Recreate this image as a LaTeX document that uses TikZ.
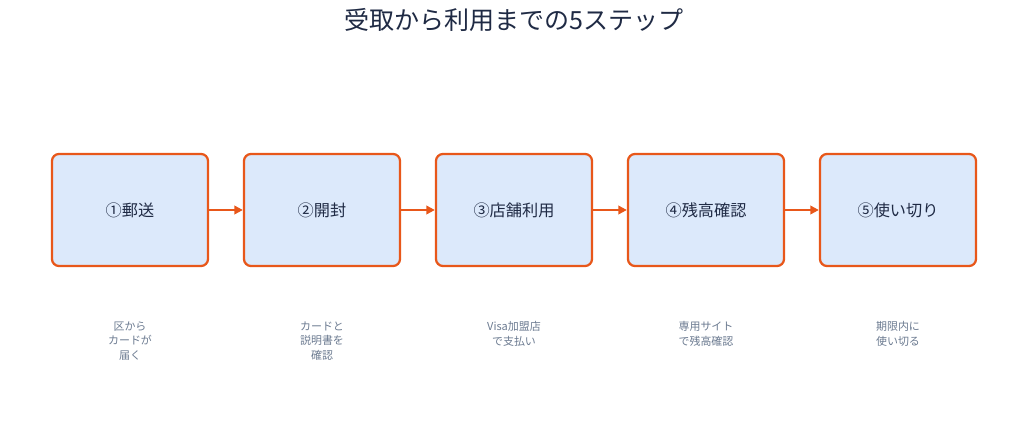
\documentclass[tikz,border=0pt]{standalone}
\usepackage{fontspec}
\setmainfont{Noto Sans CJK JP}
\usetikzlibrary{positioning,arrows.meta}
\definecolor{stepline}{HTML}{E8571A}
\definecolor{stepfill}{HTML}{DCE9FB}
\definecolor{steptext}{HTML}{1F2A44}
\definecolor{notetext}{HTML}{6B7A90}
\begin{document}
\begin{tikzpicture}
          [x=0.025cm,y=-0.025cm,
          stepbox/.style={shape=rectangle,rounded corners=5pt,draw=stepline,fill=stepfill,text=steptext,
            minimum width=3.9cm,minimum height=2.8cm,line width=1.6pt,font=\fontsize{11.5}{13}\selectfont},
          note/.style={text=notetext,align=center,font=\fontsize{7.8}{10.4}\selectfont},
          arc/.style={-{Triangle[length=6pt,width=6pt]},draw=stepline,line width=2pt}]
          \useasboundingbox (0,0) rectangle (1027,432);

          \node (title) [text=steptext,font=\fontsize{17.8}{20}\selectfont] at (514,20) {受取から利用までの5ステップ};

            \node (s1) [stepbox] at (130,210) {①郵送};
            \node (s2) [stepbox] at (322,210) {②開封};
            \node (s3) [stepbox] at (514,210) {③店舗利用};
            \node (s4) [stepbox] at (706,210) {④残高確認};
            \node (s5) [stepbox] at (898,210) {⑤使い切り};

            \node (n1) [note] at (130,341) {区から\\カードが\\届く};
            \node (n2) [note] at (322,341) {カードと\\説明書を\\確認};
            \node (n3) [note] at (514,334) {Visa加盟店\\で支払い};
            \node (n4) [note] at (706,334) {専用サイト\\で残高確認};
            \node (n5) [note] at (898,334) {期限内に\\使い切る};

          \draw [arc] (s1) -- (s2);
            \draw [arc] (s2) -- (s3);
            \draw [arc] (s3) -- (s4);
            \draw [arc] (s4) -- (s5);

        \end{tikzpicture}
\end{document}
